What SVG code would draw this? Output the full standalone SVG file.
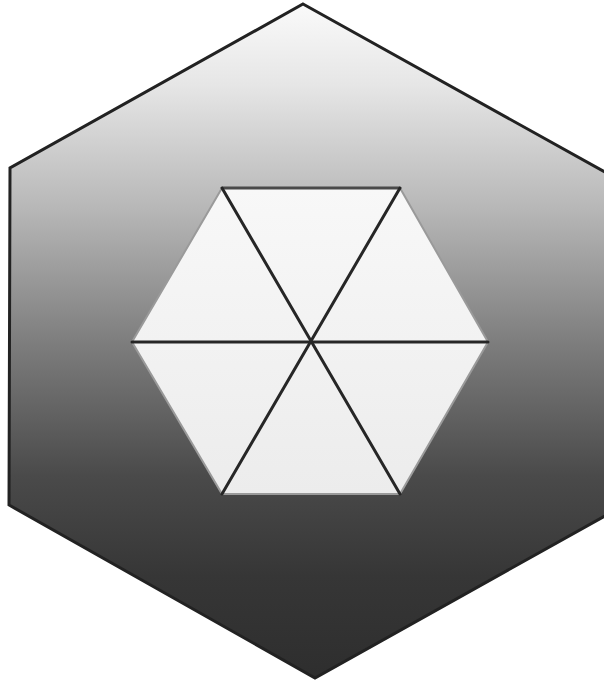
<svg xmlns="http://www.w3.org/2000/svg" width="604" height="684" viewBox="0 0 604 684">
<defs>
<linearGradient id="g" x1="0" y1="0" x2="0" y2="1">
<stop offset="0" stop-color="#fafafa"/>
<stop offset="0.12" stop-color="#e6e6e6"/>
<stop offset="0.3" stop-color="#b8b8b8"/>
<stop offset="0.5" stop-color="#7e7e7e"/>
<stop offset="0.7" stop-color="#4a4a4a"/>
<stop offset="0.85" stop-color="#363636"/>
<stop offset="1" stop-color="#2e2e2e"/>
</linearGradient>
<linearGradient id="gi" x1="0" y1="0" x2="0" y2="1">
<stop offset="0" stop-color="#f8f8f8"/>
<stop offset="1" stop-color="#ececec"/>
</linearGradient>
<style>
.spoke{stroke:#262626;stroke-width:3;stroke-linecap:round;fill:none}
</style>
</defs>
<g id="outer">
<polygon points="303,4 612,176 612,512 315,678 9,505 10,168" fill="url(#g)" stroke="#222" stroke-width="3" stroke-linejoin="miter"/>
</g>
<g id="inner">
<polygon points="222,188 400,188 488,342 400,494 222,494 132,342" fill="url(#gi)" stroke="#9a9a9a" stroke-width="2"/>
<line x1="222" y1="188" x2="400" y2="188" stroke="#4a4a4a" stroke-width="3"/>
</g>
<g id="connectors">
<line class="spoke" x1="132" y1="342" x2="488" y2="342"/>
<line class="spoke" x1="222" y1="188" x2="400" y2="494"/>
<line class="spoke" x1="400" y1="188" x2="222" y2="494"/>
</g>
</svg>
